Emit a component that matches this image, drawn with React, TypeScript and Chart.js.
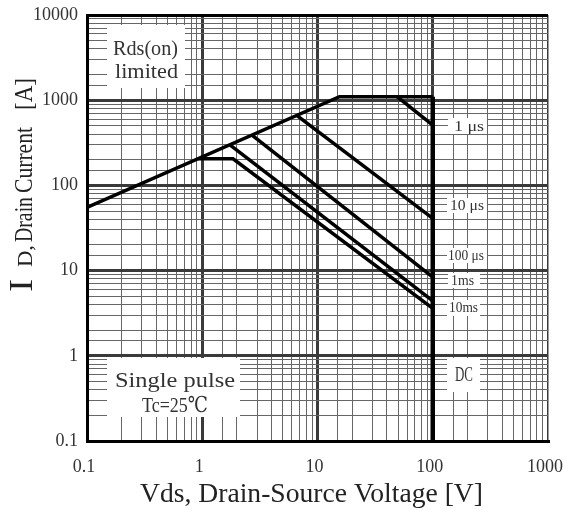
import { useEffect, useRef } from 'react';
import { Chart, registerables } from 'chart.js';

Chart.register(...registerables);

// Axis ranges (log-log)
const xRange = [0.1, 1000];
const yRange = [0.1, 10000];

// Safe-operating-area curves: Vds [V] and Id [A]
const rdsV = [0.1, 15.5, 100];
const rdsI = [55, 1100, 1100];
const dcV = [100, 100];
const dcI = [1100, 0.1];
const us1V = [49, 100];
const us1I = [1100, 510];
const us10V = [6.6, 100];
const us10I = [665, 41];
const us100V = [2.7, 100];
const us100I = [388, 8.4];
const ms1V = [1.75, 100];
const ms1I = [297, 4.4];
const ms10V = [0.92, 1.85, 100];
const ms10I = [205, 205, 3.6];

const FONT = '"Liberation Serif", "DejaVu Serif", serif';

const isDecade = (v: number) => {
  const l = Math.log10(v);
  return Math.abs(l - Math.round(l)) < 1e-6;
};
const fmt = (v: number) => (v < 1 ? '0.1' : String(Math.round(v)));

const pts = (xs: number[], ys: number[]) => xs.map((x, i) => ({ x, y: ys[i] }));

function fitText(ctx: CanvasRenderingContext2D, text: string, left: number, baseline: number, width: number, size: number) {
  ctx.save();
  ctx.font = `${size}px ${FONT}`;
  const w = ctx.measureText(text).width;
  ctx.translate(left, baseline);
  ctx.scale(width / w, 1);
  ctx.textAlign = 'left';
  ctx.textBaseline = 'alphabetic';
  ctx.fillText(text, 0, 0);
  ctx.restore();
}

const boxes = [
  [107, 25, 185, 88],
  [107, 358, 240, 417],
  [448, 118, 487, 134],
  [447, 198, 487, 213],
  [447, 248, 487, 263],
  [448, 273, 480, 288],
  [447, 300, 480, 316],
  [447, 358, 480, 392],
];

const notes: [string, number, number, number, number][] = [
  ['Rds(on)', 113, 55, 65, 22],
  ['limited', 115, 78, 63, 22],
  ['Single pulse', 115, 387, 120, 22],
  ['Tc=25℃', 142, 412, 66, 22],
  ['1 μs', 454, 131, 30, 14],
  ['10 μs', 450, 210, 34, 14],
  ['100 μs', 448, 260, 36, 14],
  ['1ms', 451, 285, 23, 14],
  ['10ms', 449, 312, 29, 14],
  ['DC', 455, 381, 18, 20],
];

const annotPlugin = {
  id: 'annot',
  beforeDraw(chart: any) {
    const ctx = chart.ctx;
    ctx.save();
    ctx.fillStyle = '#fff';
    ctx.fillRect(0, 0, chart.width, chart.height);
    ctx.restore();
  },
  beforeDatasetsDraw(chart: any) {
    const ctx: CanvasRenderingContext2D = chart.ctx;
    ctx.save();
    ctx.fillStyle = '#fff';
    for (const [x1, y1, x2, y2] of boxes) ctx.fillRect(x1, y1, x2 - x1, y2 - y1);
    ctx.fillStyle = '#333';
    for (const [t, l, b, w, s] of notes) fitText(ctx, t, l, b, w, s);
    ctx.restore();
  },
  afterDraw(chart: any) {
    const ctx: CanvasRenderingContext2D = chart.ctx;
    ctx.save();
    ctx.fillStyle = '#222';
    // x axis title
    fitText(ctx, 'Vds, Drain-Source Voltage [V]', 140, 502, 343, 27);
    // y axis title (rotated)
    ctx.translate(32, 0);
    ctx.rotate(-Math.PI / 2);
    fitText(ctx, 'I', -292, 0, 13, 34);
    fitText(ctx, 'D,', -267, 0, 22, 21);
    fitText(ctx, 'Drain', -242, 0, 45, 26);
    fitText(ctx, 'Current', -193, 0, 66, 26);
    fitText(ctx, '[A]', -110, 0, 32, 26);
    ctx.restore();
  },
};

const gridColor = (c: any) => {
  const v = c.tick && c.tick.value;
  if (v === undefined) return '#777';
  return isDecade(v) ? '#3a3a3a' : '#666';
};
const xGridWidth = (c: any) => {
  const v = c.tick && c.tick.value;
  if (v === undefined) return 1;
  if (v >= 999) return 1.5;
  return isDecade(v) ? 3 : 1;
};
const yGridColor = (c: any) => {
  const v = c.tick && c.tick.value;
  if (v !== undefined && v >= 9999) return '#000';
  return gridColor(c);
};
const yGridWidth = (c: any) => {
  const v = c.tick && c.tick.value;
  if (v === undefined) return 1;
  return isDecade(v) ? 3 : 1;
};

export default function App() {
  const ref = useRef<HTMLCanvasElement>(null);
  useEffect(() => {
    if (!ref.current) return;
    const line = (xs: number[], ys: number[], w = 3.5) => ({
      data: pts(xs, ys),
      showLine: true,
      borderColor: '#000',
      borderWidth: w,
      pointRadius: 0,
      fill: false,
      borderJoinStyle: 'miter' as const,
      borderCapStyle: 'butt' as const,
    });
    const chart = new Chart(ref.current, {
      type: 'scatter',
      data: {
        datasets: [
          line(rdsV, rdsI),
          line(dcV, dcI, 4.5),
          line(us1V, us1I),
          line(us10V, us10I),
          line(us100V, us100I),
          line(ms1V, ms1I),
          line(ms10V, ms10I),
        ],
      },
      plugins: [annotPlugin],
      options: {
        animation: false,
        responsive: false,
        devicePixelRatio: 1,
        layout: { padding: { top: 15, right: 15, left: 0, bottom: 0 } },
        plugins: { legend: { display: false }, tooltip: { enabled: false } },
        scales: {
          x: {
            type: 'logarithmic',
            min: xRange[0],
            max: xRange[1],
            afterFit: (s: any) => {
              s.height = 68;
              s.paddingLeft = 0;
              s.paddingRight = 0;
            },
            grid: { color: gridColor, lineWidth: xGridWidth, drawTicks: false },
            border: { color: '#000', width: 3 },
            ticks: {
              autoSkip: false,
              maxRotation: 0,
              padding: 15,
              labelOffset: -3,
              color: '#333',
              font: { family: FONT, size: 18 },
              callback: (v: any) => (isDecade(Number(v)) ? fmt(Number(v)) : ''),
            },
          },
          y: {
            type: 'logarithmic',
            min: yRange[0],
            max: yRange[1],
            afterFit: (s: any) => {
              s.width = 87;
              s.paddingTop = 0;
              s.paddingBottom = 0;
            },
            grid: { color: yGridColor, lineWidth: yGridWidth, drawTicks: false },
            border: { color: '#000', width: 3 },
            ticks: {
              autoSkip: false,
              padding: 9,
              color: '#333',
              font: { family: FONT, size: 18 },
              callback: (v: any) => (isDecade(Number(v)) ? fmt(Number(v)) : ''),
            },
          },
        },
      } as any,
    });
    return () => chart.destroy();
  }, []);
  return (
    <div style={{ position: 'fixed', left: 0, top: 0, width: 563, height: 509, background: '#fff' }}>
      <canvas ref={ref} width={563} height={509} style={{ display: 'block' }} />
    </div>
  );
}
